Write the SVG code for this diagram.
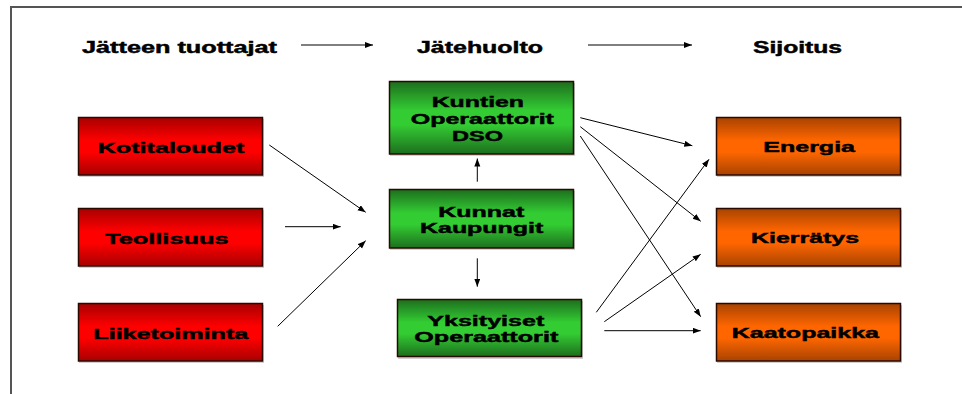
<svg xmlns="http://www.w3.org/2000/svg" width="962" height="394" viewBox="0 0 962 394">
<style>
text{font-family:"Liberation Sans",Arial,sans-serif;font-weight:bold;fill:#000;stroke:#000;stroke-width:0.45;}
.h{font-size:16px;}
.b{font-size:15px;}
.box{stroke:#2a0a00;stroke-width:1.5;}
.sh{fill:#d0d0d0;}
.c{stroke:#000;stroke-width:1;fill:none;marker-end:url(#ah);}
</style>
<defs>
<marker id="ah" markerUnits="userSpaceOnUse" markerWidth="9" markerHeight="7" refX="8" refY="3" orient="auto">
<path d="M0,0 L8,3 L0,6 z" fill="#000"/>
</marker>
<linearGradient id="gr" x1="0" y1="0" x2="0" y2="1">
<stop offset="0" stop-color="#a80000"/><stop offset="0.4" stop-color="#ff0000"/><stop offset="0.6" stop-color="#ff0000"/><stop offset="1" stop-color="#a80000"/>
</linearGradient>
<linearGradient id="gg" x1="0" y1="0" x2="0" y2="1">
<stop offset="0" stop-color="#1d6e1d"/><stop offset="0.4" stop-color="#33cc33"/><stop offset="0.6" stop-color="#33cc33"/><stop offset="1" stop-color="#1d6e1d"/>
</linearGradient>
<linearGradient id="go" x1="0" y1="0" x2="0" y2="1">
<stop offset="0" stop-color="#a84300"/><stop offset="0.4" stop-color="#ff6600"/><stop offset="0.6" stop-color="#ff6600"/><stop offset="1" stop-color="#a84300"/>
</linearGradient>
</defs>
<rect width="962" height="394" fill="#fff"/>
<g id="frame">
<path d="M11,394 V7 H962" fill="none" stroke="#555" stroke-width="2"/>
</g>
<g id="headers">
<text class="h" x="82" y="53" textLength="195" lengthAdjust="spacingAndGlyphs">Jätteen tuottajat</text>
<text class="h" x="417" y="53" textLength="126" lengthAdjust="spacingAndGlyphs">Jätehuolto</text>
<text class="h" x="753" y="53" textLength="89" lengthAdjust="spacingAndGlyphs">Sijoitus</text>
</g>
<g id="kotitaloudet">
<rect class="sh" x="79" y="119" width="185" height="58"/>
<rect class="box" x="78.5" y="117.5" width="184" height="57.5" fill="url(#gr)"/>
<text class="b" x="97.7" y="152.5" textLength="146.6" lengthAdjust="spacingAndGlyphs">Kotitaloudet</text>
</g>
<g id="teollisuus">
<rect class="sh" x="79" y="210" width="185" height="58"/>
<rect class="box" x="78.5" y="208.5" width="184" height="57.5" fill="url(#gr)"/>
<text class="b" x="105" y="243.5" textLength="123.7" lengthAdjust="spacingAndGlyphs">Teollisuus</text>
</g>
<g id="liiketoiminta">
<rect class="sh" x="79" y="305" width="185" height="58"/>
<rect class="box" x="78.5" y="303.5" width="184" height="57.5" fill="url(#gr)"/>
<text class="b" x="93.3" y="338.5" textLength="155" lengthAdjust="spacingAndGlyphs">Liiketoiminta</text>
</g>
<g id="kuntien">
<rect class="sh" x="390" y="83" width="185" height="73"/>
<rect class="box" x="389.5" y="81.5" width="184" height="72.5" fill="url(#gg)"/>
<text class="b" x="431.7" y="106.7" textLength="92.3" lengthAdjust="spacingAndGlyphs">Kuntien</text>
<text class="b" x="410.7" y="123.5" textLength="143.3" lengthAdjust="spacingAndGlyphs">Operaattorit</text>
<text class="b" x="452" y="140.5" textLength="51" lengthAdjust="spacingAndGlyphs">DSO</text>
</g>
<g id="kunnat">
<rect class="sh" x="390" y="191" width="185" height="59"/>
<rect class="box" x="389.5" y="189.5" width="184" height="58.5" fill="url(#gg)"/>
<text class="b" x="438.3" y="216.7" textLength="86" lengthAdjust="spacingAndGlyphs">Kunnat</text>
<text class="b" x="420" y="233.3" textLength="123.3" lengthAdjust="spacingAndGlyphs">Kaupungit</text>
</g>
<g id="yksityiset">
<rect class="sh" x="398" y="301" width="185" height="58"/>
<rect class="box" x="397.5" y="299.5" width="184" height="57" fill="url(#gg)"/>
<text class="b" x="427.3" y="325.7" textLength="117" lengthAdjust="spacingAndGlyphs">Yksityiset</text>
<text class="b" x="414.3" y="341.7" textLength="144" lengthAdjust="spacingAndGlyphs">Operaattorit</text>
</g>
<g id="energia">
<rect class="sh" x="717" y="119" width="185" height="58"/>
<rect class="box" x="716.5" y="117.5" width="184" height="57.5" fill="url(#go)"/>
<text class="b" x="763.3" y="152.3" textLength="91.7" lengthAdjust="spacingAndGlyphs">Energia</text>
</g>
<g id="kierratys">
<rect class="sh" x="717" y="210" width="185" height="58"/>
<rect class="box" x="716.5" y="208.5" width="184" height="57.5" fill="url(#go)"/>
<text class="b" x="751" y="243.3" textLength="108" lengthAdjust="spacingAndGlyphs">Kierrätys</text>
</g>
<g id="kaatopaikka">
<rect class="sh" x="717" y="305" width="185" height="58"/>
<rect class="box" x="716.5" y="303.5" width="184" height="57.5" fill="url(#go)"/>
<text class="b" x="731.7" y="338" textLength="147.3" lengthAdjust="spacingAndGlyphs">Kaatopaikka</text>
</g>
<g id="connectors">
<line class="c" x1="301" y1="45" x2="373" y2="45"/>
<line class="c" x1="588" y1="45" x2="692" y2="45"/>
<line class="c" x1="269.3" y1="145" x2="365.7" y2="212.3"/>
<line class="c" x1="285" y1="226.7" x2="340.7" y2="226.7"/>
<line class="c" x1="277.7" y1="326.3" x2="365.7" y2="240.7"/>
<line class="c" x1="477.3" y1="181.7" x2="477.3" y2="158.5"/>
<line class="c" x1="477.3" y1="258.3" x2="477.3" y2="286.7"/>
<line class="c" x1="580.3" y1="117.7" x2="692.3" y2="145.7"/>
<line class="c" x1="580.3" y1="126.7" x2="700.7" y2="221.3"/>
<line class="c" x1="580.3" y1="136" x2="700.7" y2="316.7"/>
<line class="c" x1="596.3" y1="312.3" x2="709" y2="159.3"/>
<line class="c" x1="604.3" y1="321.7" x2="700.7" y2="254.3"/>
<line class="c" x1="604.3" y1="330.7" x2="700.7" y2="330.7"/>
</g>
</svg>
